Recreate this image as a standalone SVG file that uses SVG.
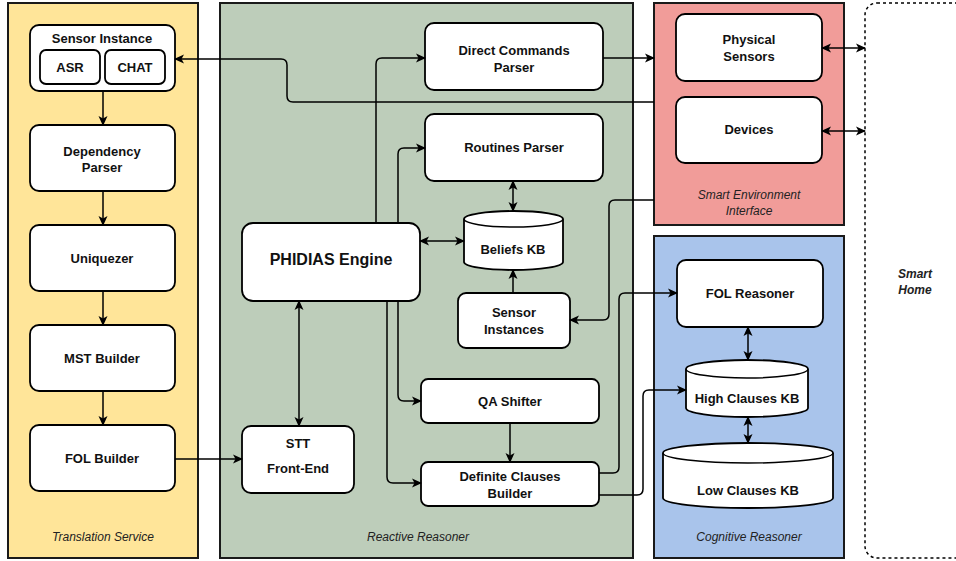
<svg xmlns="http://www.w3.org/2000/svg" width="956" height="561" viewBox="0 0 956 561">
  <style>
    .box { fill: #ffffff; stroke: #000000; stroke-width: 1.8; }
    .cont { stroke: #1a1a1a; stroke-width: 2; }
    .lbl { font-family: "Liberation Sans", Arial, sans-serif; font-weight: bold; font-size: 13px; fill: #111; text-anchor: middle; }
    .big { font-size: 16px; }
    .cap { font-family: "Liberation Sans", Arial, sans-serif; font-style: italic; font-size: 12px; fill: #222; text-anchor: middle; }
    .edge { fill: none; stroke: #000000; stroke-width: 1.5; }
  </style>
  <defs>
    <marker id="arr" viewBox="0 0 10 10" refX="9" refY="5" markerWidth="10" markerHeight="10" markerUnits="userSpaceOnUse" orient="auto-start-reverse">
      <path d="M0,0.5 L10,5 L0,9.5 L2.5,5 Z" fill="#000"/>
    </marker>
  </defs>

  <!-- Containers -->
  <g id="translation-service">
    <rect class="cont" x="8" y="3" width="190" height="555" fill="#FFE599"/>
    <text class="cap" x="103" y="541">Translation Service</text>
  </g>
  <g id="reactive-reasoner">
    <rect class="cont" x="220" y="3" width="413" height="555" fill="#BDCDBA"/>
    <text class="cap" x="418" y="541">Reactive Reasoner</text>
  </g>
  <g id="smart-environment-interface">
    <rect class="cont" x="654" y="3" width="190" height="222" fill="#F19C99"/>
    <text class="cap" x="749" y="199">Smart Environment</text>
    <text class="cap" x="749" y="215">Interface</text>
  </g>
  <g id="cognitive-reasoner">
    <rect class="cont" x="654" y="236" width="190" height="322" fill="#A9C4EB"/>
    <text class="cap" x="749" y="541">Cognitive Reasoner</text>
  </g>
  <g id="smart-home">
    <rect x="865" y="3" width="110" height="555" rx="12" fill="#ffffff" stroke="#000" stroke-width="1.5" stroke-dasharray="3,3"/>
    <text class="cap" x="915" y="278" font-weight="bold" fill="#111">Smart</text>
    <text class="cap" x="915" y="294" font-weight="bold" fill="#111">Home</text>
  </g>

  <!-- Translation Service nodes -->
  <g id="sensor-instance">
    <rect class="box" x="30" y="25" width="145" height="66" rx="9"/>
    <text class="lbl" x="102" y="43">Sensor Instance</text>
  </g>
  <g id="asr">
    <rect class="box" x="40" y="50" width="60" height="34" rx="6"/>
    <text class="lbl" x="70" y="72">ASR</text>
  </g>
  <g id="chat">
    <rect class="box" x="105" y="50" width="60" height="34" rx="6"/>
    <text class="lbl" x="135" y="72">CHAT</text>
  </g>
  <g id="dependency-parser">
    <rect class="box" x="30" y="125" width="145" height="66" rx="9"/>
    <text class="lbl" x="102" y="156">Dependency</text>
    <text class="lbl" x="102" y="172">Parser</text>
  </g>
  <g id="uniquezer">
    <rect class="box" x="30" y="225" width="145" height="66" rx="9"/>
    <text class="lbl" x="102" y="263">Uniquezer</text>
  </g>
  <g id="mst-builder">
    <rect class="box" x="30" y="325" width="145" height="66" rx="9"/>
    <text class="lbl" x="102" y="363">MST Builder</text>
  </g>
  <g id="fol-builder">
    <rect class="box" x="30" y="425" width="145" height="66" rx="9"/>
    <text class="lbl" x="102" y="463">FOL Builder</text>
  </g>

  <!-- Reactive Reasoner nodes -->
  <g id="direct-commands-parser">
    <rect class="box" x="425" y="23" width="178" height="67" rx="9"/>
    <text class="lbl" x="514" y="55">Direct Commands</text>
    <text class="lbl" x="514" y="72">Parser</text>
  </g>
  <g id="routines-parser">
    <rect class="box" x="425" y="114" width="178" height="67" rx="9"/>
    <text class="lbl" x="514" y="152">Routines Parser</text>
  </g>
  <g id="beliefs-kb">
    <path class="box" d="M464,219 A49.5,8 0 0 1 563,219 V262 A49.5,8 0 0 1 464,262 Z"/>
    <path class="edge" d="M464,219 A49.5,8 0 0 0 563,219" stroke-width="1.8"/>
    <text class="lbl" x="513" y="254">Beliefs KB</text>
  </g>
  <g id="phidias-engine">
    <rect class="box" x="242" y="223" width="178" height="78" rx="11"/>
    <text class="lbl big" x="331" y="265">PHIDIAS Engine</text>
  </g>
  <g id="sensor-instances">
    <rect class="box" x="458" y="293" width="112" height="55" rx="8"/>
    <text class="lbl" x="514" y="317">Sensor</text>
    <text class="lbl" x="514" y="334">Instances</text>
  </g>
  <g id="qa-shifter">
    <rect class="box" x="421" y="379" width="178" height="44" rx="7"/>
    <text class="lbl" x="510" y="406">QA Shifter</text>
  </g>
  <g id="definite-clauses-builder">
    <rect class="box" x="421" y="462" width="178" height="44" rx="7"/>
    <text class="lbl" x="510" y="481">Definite Clauses</text>
    <text class="lbl" x="510" y="498">Builder</text>
  </g>
  <g id="stt-front-end">
    <rect class="box" x="242" y="426" width="112" height="67" rx="9"/>
    <text class="lbl" x="298" y="448">STT</text>
    <text class="lbl" x="298" y="473">Front-End</text>
  </g>

  <!-- Smart Environment Interface nodes -->
  <g id="physical-sensors">
    <rect class="box" x="676" y="14" width="146" height="67" rx="9"/>
    <text class="lbl" x="749" y="44">Physical</text>
    <text class="lbl" x="749" y="61">Sensors</text>
  </g>
  <g id="devices">
    <rect class="box" x="676" y="97" width="146" height="66" rx="9"/>
    <text class="lbl" x="749" y="134">Devices</text>
  </g>

  <!-- Cognitive Reasoner nodes -->
  <g id="fol-reasoner">
    <rect class="box" x="677" y="260" width="146" height="67" rx="9"/>
    <text class="lbl" x="750" y="298">FOL Reasoner</text>
  </g>
  <g id="high-clauses-kb">
    <path class="box" d="M686,369 A61,9 0 0 1 808,369 V408 A61,9 0 0 1 686,408 Z"/>
    <path class="edge" d="M686,369 A61,9 0 0 0 808,369" stroke-width="1.8"/>
    <text class="lbl" x="747" y="403">High Clauses KB</text>
  </g>
  <g id="low-clauses-kb">
    <path class="box" d="M663,453 A85,10 0 0 1 833,453 V498 A85,10 0 0 1 663,498 Z"/>
    <path class="edge" d="M663,453 A85,10 0 0 0 833,453" stroke-width="1.8"/>
    <text class="lbl" x="748" y="495">Low Clauses KB</text>
  </g>

  <!-- Connectors -->
  <g id="connectors">
    <path class="edge" d="M103,91 V125" marker-end="url(#arr)"/>
    <path class="edge" d="M103,191 V225" marker-end="url(#arr)"/>
    <path class="edge" d="M103,291 V325" marker-end="url(#arr)"/>
    <path class="edge" d="M103,391 V425" marker-end="url(#arr)"/>
    <path class="edge" d="M175,459 H242" marker-end="url(#arr)"/>
    <path class="edge" d="M654,102 H293 Q287,102 287,96 V65 Q287,59 281,59 H175" marker-end="url(#arr)"/>
    <path class="edge" d="M603,58 H654" marker-end="url(#arr)"/>
    <path class="edge" d="M376,223 V64 Q376,58 382,58 H425" marker-end="url(#arr)"/>
    <path class="edge" d="M398,223 V154 Q398,148 404,148 H425" marker-end="url(#arr)"/>
    <path class="edge" d="M420,241 H464" marker-start="url(#arr)" marker-end="url(#arr)"/>
    <path class="edge" d="M513,181 V211" marker-start="url(#arr)" marker-end="url(#arr)"/>
    <path class="edge" d="M513,293 V270" marker-end="url(#arr)"/>
    <path class="edge" d="M654,200 H615 Q609,200 609,206 V314 Q609,320 603,320 H570" marker-end="url(#arr)"/>
    <path class="edge" d="M299,301 V426" marker-start="url(#arr)" marker-end="url(#arr)"/>
    <path class="edge" d="M398,301 V395 Q398,401 404,401 H421" marker-end="url(#arr)"/>
    <path class="edge" d="M387,301 V477 Q387,483 393,483 H421" marker-end="url(#arr)"/>
    <path class="edge" d="M510,423 V462" marker-end="url(#arr)"/>
    <path class="edge" d="M599,473 H613 Q619,473 619,467 V299 Q619,293 625,293 H677" marker-end="url(#arr)"/>
    <path class="edge" d="M599,495 H637 Q643,495 643,489 V396 Q643,390 649,390 H686" marker-end="url(#arr)"/>
    <path class="edge" d="M748,327 V360" marker-start="url(#arr)" marker-end="url(#arr)"/>
    <path class="edge" d="M748,417 V443" marker-start="url(#arr)" marker-end="url(#arr)"/>
    <path class="edge" d="M822,48 H865" marker-start="url(#arr)" marker-end="url(#arr)"/>
    <path class="edge" d="M822,131 H865" marker-start="url(#arr)" marker-end="url(#arr)"/>
  </g>
</svg>
